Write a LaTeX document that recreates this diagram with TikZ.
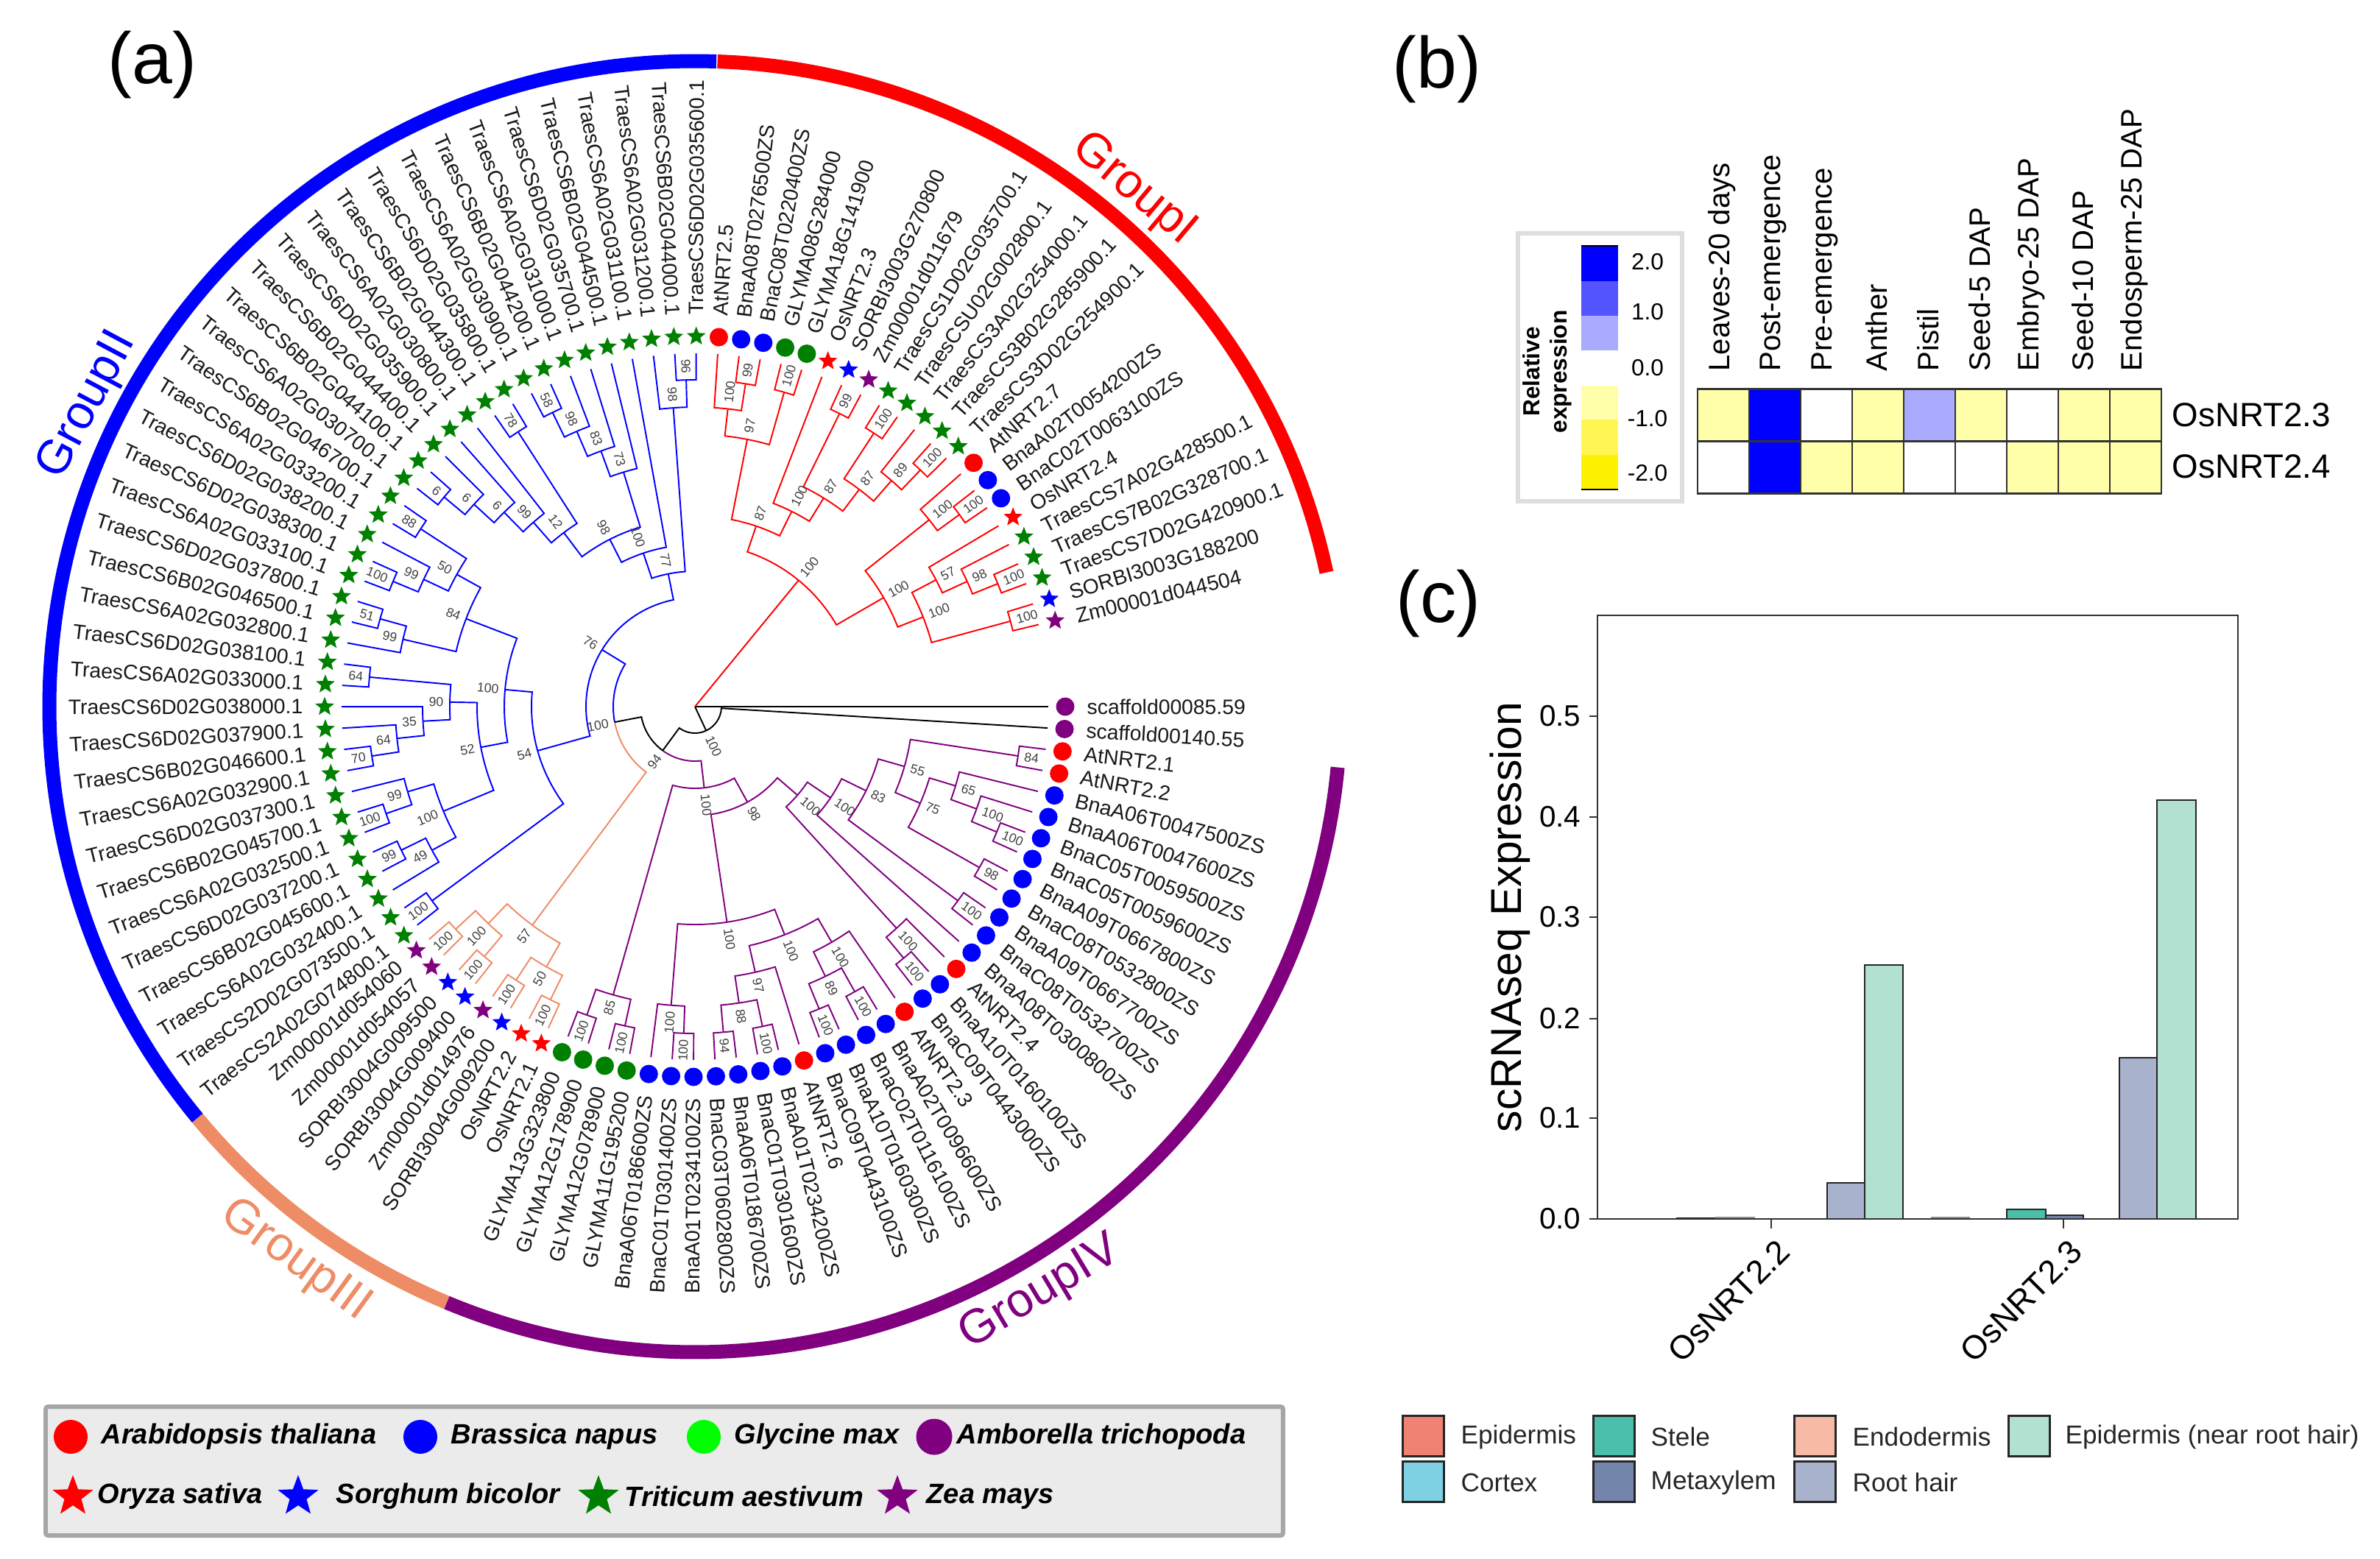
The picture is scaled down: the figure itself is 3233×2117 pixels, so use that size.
\documentclass[tikz,border=0pt]{standalone}
\usepackage{fontspec}
\setmainfont{Liberation Sans}
\usetikzlibrary{shapes.geometric}

\definecolor{grpor}{HTML}{EE8C66}
\definecolor{grppu}{HTML}{800080}
\definecolor{grpgr}{HTML}{008000}
\definecolor{heatyl}{HTML}{FFFFAA}
\definecolor{heatbl}{HTML}{AAAAFF}
\definecolor{cepi}{HTML}{EF8272}
\definecolor{ccor}{HTML}{80D0E3}
\definecolor{cste}{HTML}{4ABFA9}
\definecolor{cmet}{HTML}{7485AB}
\definecolor{cend}{HTML}{F6BBA6}
\definecolor{chair}{HTML}{A8B2CC}
\definecolor{cnear}{HTML}{B2E0D1}

\tikzset{
  tip/.style={inner sep=0pt,font=\fontsize{8.05}{9}\selectfont,text=black!90},
  boot/.style={inner sep=0pt,font=\fontsize{5}{5.5}\selectfont,text=black!75},
  dot/.style={circle,fill,inner sep=0pt,minimum size=2.5mm},
  sta/.style={star,star points=5,star point ratio=2.3,fill,inner sep=0pt,minimum size=2.7mm},
  rdot/.style={dot,red}, bdot/.style={dot,blue}, gdot/.style={dot,grpgr}, pdot/.style={dot,grppu},
  rsta/.style={sta,red}, bsta/.style={sta,blue}, gsta/.style={sta,grpgr}, psta/.style={sta,grppu},
  lnr/.style={red,line width=.55pt}, lnb/.style={blue,line width=.55pt},
  lno/.style={grpor,line width=.55pt}, lnp/.style={grppu,line width=.55pt},
  lnk/.style={black,line width=.55pt},
  ring/.style={line width=5.4pt},
  grplab/.style={inner sep=0pt,font=\fontsize{18.5}{20}\selectfont},
  panel/.style={inner sep=0pt,font=\fontsize{28}{30}\selectfont},
  lgtext/.style={inner sep=0pt,anchor=west,font=\fontsize{10.8}{12}\selectfont\bfseries\itshape},
  ldot/.style={circle,fill,inner sep=0pt,minimum size=4.6mm},
  lsta/.style={star,star points=5,star point ratio=2.4,fill,inner sep=0pt,minimum size=5.8mm},
  cell/.style={draw=black!80,line width=.6pt,inner sep=0pt,minimum width=7mm,minimum height=7.1mm},
  collab/.style={inner sep=0pt,rotate=90,anchor=west,font=\fontsize{11.4}{13}\selectfont},
  rowlab/.style={inner sep=0pt,anchor=west,font=\fontsize{13}{15}\selectfont},
  cbar/.style={inner sep=0pt,font=\fontsize{9}{10}\selectfont},
  bar/.style={draw=black!85,line width=.75pt},
  ytick/.style={inner sep=0pt,anchor=east,font=\fontsize{11.5}{13}\selectfont},
  xtick/.style={inner sep=0pt,rotate=45,anchor=east,font=\fontsize{12.8}{14}\selectfont},
  swatch/.style={draw=black!85,line width=.75pt,inner sep=0pt,minimum width=5.6mm,minimum height=5.5mm,anchor=north west},
  swtext/.style={inner sep=0pt,anchor=west,font=\fontsize{10}{12}\selectfont,text=black!85}
}

% leaf: name, angle, style, text
\newcommand{\leaf}[4]{%
  \node[#3] (#1) at (#2:503) {};
  \coordinate (#1-j) at (#2:480);
  \expandafter\xdef\csname ang#1\endcsname{#2}%
  \pgfmathtruncatemacro{\lft}{cos(#2)<0 ? 1 : 0}%
  \ifnum\lft=1
    \node[tip,rotate=#2+180,anchor=east] (#1-t) at (#2:532) {#4};
  \else
    \node[tip,rotate=#2,anchor=west] (#1-t) at (#2:532) {#4};
  \fi
}
% clade in two colours: style, style, name, child, child, radius, bootstrap
\newcommand{\cladetwo}[7]{%
  \pgfmathsetmacro{\angA}{\csname ang#4\endcsname}%
  \pgfmathsetmacro{\angB}{\csname ang#5\endcsname}%
  \pgfmathsetmacro{\angM}{(\angA+\angB)/2}%
  \expandafter\xdef\csname ang#3\endcsname{\angM}%
  \coordinate (#3-j) at (\angM:#6);
  \draw[#1] (#4-j) -- (\angA:#6) arc[start angle=\angA,end angle=\angM,radius=#6];
  \draw[#2] (#5-j) -- (\angB:#6) arc[start angle=\angB,end angle=\angM,radius=#6];
  \pgfmathsetmacro{\radL}{#6+8}%
  \pgfmathtruncatemacro{\lft}{cos(\angM)<0 ? 1 : 0}%
  \ifnum\lft=1
    \node[boot,rotate=\angM+180,anchor=east] (#3-b) at (\angM:\radL) {#7};
  \else
    \node[boot,rotate=\angM,anchor=west] (#3-b) at (\angM:\radL) {#7};
  \fi
}
\newcommand{\clade}[6]{\cladetwo{#1}{#1}{#2}{#3}{#4}{#5}{#6}}

\begin{document}
\begin{tikzpicture}[x=0.01cm,y=0.01cm]
\useasboundingbox (0,0) rectangle (3233,-2117);

% panel a
\node[panel] (pa) at (207,-88) {(a)};
\begin{scope}[shift={(944,-960)}]
\coordinate (root) at (0,0);
\draw[ring,red] (88:877) arc[start angle=88,end angle=12,radius=877];
\draw[ring,blue] (88.1:877) arc[start angle=88.1,end angle=219.6,radius=877];
\draw[ring,grpor] (219.6:877) arc[start angle=219.6,end angle=247.4,radius=877];
\draw[ring,grppu] (247.4:877) arc[start angle=247.4,end angle=354.6,radius=877];
\node[grplab,red,rotate=-40] (gi) at (49.7:921) {GroupI};
\node[grplab,blue,rotate=62] (gii) at (153.6:921) {GroupII};
\node[grplab,grpor,rotate=-36] (giii) at (234.2:928) {GroupIII};
\node[grplab,grppu,rotate=31] (giv) at (300.5:925) {GroupIV};

% tips, group I
\leaf{a1}{86.3}{rdot}{AtNRT2.5}
\leaf{a2}{82.83}{bdot}{BnaA08T0276500ZS}
\leaf{a3}{79.36}{bdot}{BnaC08T0220400ZS}
\leaf{a4}{75.89}{gdot}{GLYMA08G284000}
\leaf{a5}{72.42}{gdot}{GLYMA18G141900}
\leaf{a6}{68.95}{rsta}{OsNRT2.3}
\leaf{a7}{65.48}{bsta}{SORBI3003G270800}
\leaf{a8}{62.01}{psta}{Zm00001d011679}
\leaf{a9}{58.54}{gsta}{TraesCS1D02G035700.1}
\leaf{a10}{55.07}{gsta}{TraesCSU02G002800.1}
\leaf{a11}{51.6}{gsta}{TraesCS3A02G254000.1}
\leaf{a12}{48.13}{gsta}{TraesCS3B02G285900.1}
\leaf{a13}{44.66}{gsta}{TraesCS3D02G254900.1}
\leaf{a14}{41.19}{rdot}{AtNRT2.7}
\leaf{a15}{37.72}{bdot}{BnaA02T0054200ZS}
\leaf{a16}{34.25}{bdot}{BnaC02T0063100ZS}
\leaf{a17}{30.78}{rsta}{OsNRT2.4}
\leaf{a18}{27.31}{gsta}{TraesCS7A02G428500.1}
\leaf{a19}{23.84}{gsta}{TraesCS7B02G328700.1}
\leaf{a20}{20.37}{gsta}{TraesCS7D02G420900.1}
\leaf{a21}{16.9}{bsta}{SORBI3003G188200}
\leaf{a22}{13.43}{psta}{Zm00001d044504}

% tips, group II
\leaf{w1}{89.8}{gsta}{TraesCS6D02G035600.1}
\leaf{w2}{93.27}{gsta}{TraesCS6B02G044000.1}
\leaf{w3}{96.74}{gsta}{TraesCS6A02G031200.1}
\leaf{w4}{100.21}{gsta}{TraesCS6A02G031100.1}
\leaf{w5}{103.68}{gsta}{TraesCS6B02G044500.1}
\leaf{w6}{107.15}{gsta}{TraesCS6D02G035700.1}
\leaf{w7}{110.62}{gsta}{TraesCS6A02G031000.1}
\leaf{w8}{114.09}{gsta}{TraesCS6B02G044200.1}
\leaf{w9}{117.56}{gsta}{TraesCS6A02G030900.1}
\leaf{w10}{121.03}{gsta}{TraesCS6D02G035800.1}
\leaf{w11}{124.5}{gsta}{TraesCS6B02G044300.1}
\leaf{w12}{127.97}{gsta}{TraesCS6A02G030800.1}
\leaf{w13}{131.44}{gsta}{TraesCS6D02G035900.1}
\leaf{w14}{134.91}{gsta}{TraesCS6B02G044400.1}
\leaf{w15}{138.38}{gsta}{TraesCS6B02G044100.1}
\leaf{w16}{141.85}{gsta}{TraesCS6A02G030700.1}
\leaf{w17}{145.32}{gsta}{TraesCS6B02G046700.1}
\leaf{w18}{148.79}{gsta}{TraesCS6A02G033200.1}
\leaf{w19}{152.26}{gsta}{TraesCS6D02G038200.1}
\leaf{w20}{155.73}{gsta}{TraesCS6D02G038300.1}
\leaf{w21}{159.2}{gsta}{TraesCS6A02G033100.1}
\leaf{w22}{162.67}{gsta}{TraesCS6D02G037800.1}
\leaf{w23}{166.14}{gsta}{TraesCS6B02G046500.1}
\leaf{w24}{169.61}{gsta}{TraesCS6A02G032800.1}
\leaf{w25}{173.08}{gsta}{TraesCS6D02G038100.1}
\leaf{w26}{176.55}{gsta}{TraesCS6A02G033000.1}
\leaf{w27}{180.02}{gsta}{TraesCS6D02G038000.1}
\leaf{w28}{183.49}{gsta}{TraesCS6D02G037900.1}
\leaf{w29}{186.96}{gsta}{TraesCS6B02G046600.1}
\leaf{w30}{190.43}{gsta}{TraesCS6A02G032900.1}
\leaf{w31}{193.9}{gsta}{TraesCS6D02G037300.1}
\leaf{w32}{197.37}{gsta}{TraesCS6B02G045700.1}
\leaf{w33}{200.84}{gsta}{TraesCS6A02G032500.1}
\leaf{w34}{204.31}{gsta}{TraesCS6D02G037200.1}
\leaf{w35}{207.78}{gsta}{TraesCS6B02G045600.1}
\leaf{w36}{211.25}{gsta}{TraesCS6A02G032400.1}
\leaf{w37}{214.72}{gsta}{TraesCS2D02G073500.1}
\leaf{w38}{218.19}{gsta}{TraesCS2A02G074800.1}

% tips, groups III and IV
\leaf{c1}{360}{pdot}{scaffold00085.59}
\leaf{c2}{356.53}{pdot}{scaffold00140.55}
\leaf{c3}{353.06}{rdot}{AtNRT2.1}
\leaf{c4}{349.59}{rdot}{AtNRT2.2}
\leaf{c5}{346.12}{bdot}{BnaA06T0047500ZS}
\leaf{c6}{342.65}{bdot}{BnaA06T0047600ZS}
\leaf{c7}{339.18}{bdot}{BnaC05T0059500ZS}
\leaf{c8}{335.71}{bdot}{BnaC05T0059600ZS}
\leaf{c9}{332.24}{bdot}{BnaA09T0667800ZS}
\leaf{c10}{328.77}{bdot}{BnaC08T0532800ZS}
\leaf{c11}{325.3}{bdot}{BnaA09T0667700ZS}
\leaf{c12}{321.83}{bdot}{BnaC08T0532700ZS}
\leaf{c13}{318.36}{bdot}{BnaA08T0300800ZS}
\leaf{c14}{314.89}{rdot}{AtNRT2.4}
\leaf{c15}{311.42}{bdot}{BnaA10T0160100ZS}
\leaf{c16}{307.95}{bdot}{BnaC09T0443000ZS}
\leaf{c17}{304.48}{rdot}{AtNRT2.3}
\leaf{c18}{301.01}{bdot}{BnaA02T0096600ZS}
\leaf{c19}{297.54}{bdot}{BnaC02T0116100ZS}
\leaf{c20}{294.07}{bdot}{BnaA10T0160300ZS}
\leaf{c21}{290.6}{bdot}{BnaC09T0443100ZS}
\leaf{c22}{287.13}{rdot}{AtNRT2.6}
\leaf{c23}{283.66}{bdot}{BnaA01T0234200ZS}
\leaf{c24}{280.19}{bdot}{BnaC01T0301600ZS}
\leaf{c25}{276.72}{bdot}{BnaA06T0186700ZS}
\leaf{c26}{273.25}{bdot}{BnaC03T0602800ZS}
\leaf{c27}{269.78}{bdot}{BnaA01T0234100ZS}
\leaf{c28}{266.31}{bdot}{BnaC01T0301400ZS}
\leaf{c29}{262.84}{bdot}{BnaA06T0186600ZS}
\leaf{c30}{259.37}{gdot}{GLYMA11G195200}
\leaf{c31}{255.9}{gdot}{GLYMA12G078900}
\leaf{c32}{252.43}{gdot}{GLYMA12G178900}
\leaf{c33}{248.96}{gdot}{GLYMA13G323800}
\leaf{c34}{245.49}{rsta}{OsNRT2.1}
\leaf{c35}{242.02}{rsta}{OsNRT2.2}
\leaf{c36}{238.55}{bsta}{SORBI3004G009200}
\leaf{c37}{235.08}{psta}{Zm00001d014976}
\leaf{c38}{231.61}{bsta}{SORBI3004G009400}
\leaf{c39}{228.14}{bsta}{SORBI3004G009500}
\leaf{c40}{224.67}{psta}{Zm00001d054057}
\leaf{c41}{221.2}{psta}{Zm00001d054060}

% group I branches
\clade{lnr}{r1}{a3}{a2}{444}{99}
\clade{lnr}{r2}{a1}{r1}{407}{100}
\clade{lnr}{r3}{a5}{a4}{444}{100}
\clade{lnr}{r4}{r2}{r3}{370}{97}
\clade{lnr}{r5}{a8}{a7}{444}{99}
\clade{lnr}{r6}{a10}{a9}{444}{100}
\clade{lnr}{r7}{a13}{a12}{444}{100}
\clade{lnr}{r8}{a11}{r7}{407}{89}
\clade{lnr}{r9}{r6}{r8}{370}{87}
\clade{lnr}{r10}{r5}{r9}{333}{87}
\clade{lnr}{r11}{a6}{r10}{296}{100}
\clade{lnr}{r12}{r4}{r11}{259}{87}
\clade{lnr}{r13}{a16}{a15}{444}{100}
\clade{lnr}{r14}{a14}{r13}{407}{100}
\clade{lnr}{r15}{a20}{a19}{444}{100}
\clade{lnr}{r16}{a18}{r15}{407}{98}
\clade{lnr}{r17}{a17}{r16}{370}{57}
\clade{lnr}{r18}{a22}{a21}{444}{100}
\clade{lnr}{r19}{r17}{r18}{333}{100}
\clade{lnr}{r20}{r14}{r19}{296}{100}
\clade{lnr}{r21}{r12}{r20}{222}{100}

% group II branches
\clade{lnb}{b1}{w1}{w2}{444}{96}
\clade{lnb}{b2}{w3}{b1}{407}{98}
\clade{lnb}{b3}{w8}{w9}{444}{58}
\clade{lnb}{b4}{b3}{w7}{407}{98}
\clade{lnb}{b5}{b4}{w6}{370}{83}
\clade{lnb}{b6}{b5}{w5}{333}{73}
\clade{lnb}{b7}{w10}{w11}{444}{78}
\clade{lnb}{b8}{w15}{w16}{444}{6}
\clade{lnb}{b9}{b8}{w14}{407}{6}
\clade{lnb}{b10}{b9}{w13}{370}{6}
\clade{lnb}{b11}{b10}{w12}{333}{99}
\clade{lnb}{b12}{b11}{b7}{296}{12}
\clade{lnb}{b13}{b12}{b6}{255}{98}
\clade{lnb}{b14}{b13}{w4}{220}{100}
\clade{lnb}{b15}{b14}{b2}{184}{77}
\clade{lnb}{b16}{w17}{w18}{444}{88}
\clade{lnb}{b17}{w20}{w21}{444}{100}
\clade{lnb}{b18}{b17}{w19}{407}{99}
\clade{lnb}{b19}{b16}{b18}{370}{50}
\clade{lnb}{b20}{w22}{w23}{444}{51}
\clade{lnb}{b21}{b20}{w24}{407}{99}
\clade{lnb}{b22}{b19}{b21}{333}{84}
\clade{lnb}{b23}{w25}{w26}{444}{64}
\clade{lnb}{b24}{w29}{w30}{444}{70}
\clade{lnb}{b25}{w28}{b24}{407}{64}
\clade{lnb}{b26}{w27}{b25}{370}{35}
\clade{lnb}{b27}{b23}{b26}{333}{90}
\clade{lnb}{b28}{w32}{w33}{444}{100}
\clade{lnb}{b29}{w31}{b28}{407}{99}
\clade{lnb}{b30}{w34}{w35}{444}{99}
\clade{lnb}{b31}{b30}{w36}{407}{49}
\clade{lnb}{b32}{b29}{b31}{370}{100}
\clade{lnb}{b33}{b27}{b32}{296}{52}
\clade{lnb}{b34}{b22}{b33}{259}{100}
\clade{lnb}{b35}{w37}{w38}{444}{100}
\clade{lnb}{b36}{b34}{b35}{222}{54}
\clade{lnb}{b37}{b15}{b36}{148}{76}

% group III branches
\clade{lno}{o1}{c40}{c41}{444}{100}
\clade{lno}{o2}{c38}{c39}{444}{100}
\clade{lno}{o3}{o1}{o2}{407}{100}
\clade{lno}{o4}{c36}{c37}{444}{100}
\clade{lno}{o5}{c34}{c35}{444}{100}
\clade{lno}{o6}{o4}{o5}{407}{50}
\clade{lno}{o7}{o3}{o6}{370}{57}

% group IV branches
\clade{lnp}{p1}{c32}{c33}{444}{100}
\clade{lnp}{p2}{c30}{c31}{444}{100}
\clade{lnp}{p3}{p1}{p2}{407}{85}
\clade{lnp}{p4}{c27}{c28}{444}{100}
\clade{lnp}{p5}{c29}{p4}{407}{100}
\clade{lnp}{p6}{c25}{c26}{444}{94}
\clade{lnp}{p7}{c23}{c24}{444}{100}
\clade{lnp}{p8}{p6}{p7}{407}{88}
\clade{lnp}{p9}{c22}{p8}{370}{97}
\clade{lnp}{p10}{c20}{c21}{444}{100}
\clade{lnp}{p11}{c18}{c19}{444}{100}
\clade{lnp}{p12}{p10}{p11}{407}{89}
\clade{lnp}{p13}{c17}{p12}{370}{100}
\clade{lnp}{p14}{p9}{p13}{333}{100}
\clade{lnp}{p15}{p5}{p14}{296}{100}
\clade{lnp}{p16}{c15}{c16}{444}{100}
\clade{lnp}{p17}{c14}{p16}{407}{100}
\clade{lnp}{p18}{c11}{c12}{444}{100}
\clade{lnp}{p19}{c9}{c10}{444}{98}
\clade{lnp}{p20}{c7}{c8}{444}{100}
\clade{lnp}{p21}{c6}{p20}{407}{100}
\clade{lnp}{p22}{c5}{p21}{370}{65}
\clade{lnp}{p23}{p19}{p22}{333}{75}
\clade{lnp}{p24}{c3}{c4}{444}{84}
\clade{lnp}{p25}{p23}{p24}{296}{55}
\clade{lnp}{p26}{p18}{p25}{259}{83}
\clade{lnp}{p27}{c13}{p26}{222}{100}
\clade{lnp}{p28}{p17}{p27}{184}{100}
\clade{lnp}{p29}{p15}{p28}{148}{98}
\clade{lnp}{p30}{p3}{p29}{111}{100}

% branches near the root
\cladetwo{lnb}{lno}{m1}{b37}{o7}{111}{100}
\cladetwo{lnk}{lnp}{m2}{m1}{p30}{74}{94}
\clade{lnk}{m3}{m2}{c2}{36}{100}
\draw[lnk] (root) -- (m3-j);
\draw[lnk] (root) -- (c1-j);
\draw[lnr] (root) -- (r21-j);
\end{scope}

% species legend
\node[draw=black!35,fill=black!8,line width=1.7pt,rounded corners=1pt,inner sep=0pt,minimum width=16.8cm,minimum height=1.75cm,anchor=north west] (legbox) at (59,-1908) {};
\node[ldot,red] (l1) at (96,-1952) {};
\node[lgtext] (l1t) at (137,-1952) {Arabidopsis thaliana};
\node[ldot,blue] (l2) at (571,-1952) {};
\node[lgtext] (l2t) at (612,-1952) {Brassica napus};
\node[ldot,green] (l3) at (956,-1952) {};
\node[lgtext] (l3t) at (997,-1952) {Glycine max};
\node[ldot,grppu,minimum size=4.9mm] (l4) at (1269,-1952) {};
\node[lgtext] (l4t) at (1299,-1952) {Amborella trichopoda};
\node[lsta,red] (l5) at (99,-2033) {};
\node[lgtext] (l5t) at (132,-2033) {Oryza sativa};
\node[lsta,blue] (l6) at (405,-2033) {};
\node[lgtext] (l6t) at (456,-2033) {Sorghum bicolor};
\node[lsta,grpgr] (l7) at (813,-2033) {};
\node[lgtext] (l7t) at (848,-2033) {Triticum aestivum};
\node[lsta,grppu] (l8) at (1219,-2033) {};
\node[lgtext] (l8t) at (1258,-2033) {Zea mays};

% panel b
\node[panel] (pb) at (1952,-94) {(b)};
\draw[black!13,line width=1.7pt] (2062,-317) rectangle (2285,-681);
\node[inner sep=0pt,rotate=90,align=center,font=\fontsize{9}{10.5}\selectfont\bfseries] (rel) at (2102,-505) {Relative\\expression};
\fill[blue] (2148,-334) rectangle (2198,-382);
\fill[blue!67] (2148,-382) rectangle (2198,-429);
\fill[heatbl] (2148,-429) rectangle (2198,-476);
\fill[heatyl] (2148,-524) rectangle (2198,-570);
\fill[yellow!67!white] (2148,-570) rectangle (2198,-618);
\fill[yellow] (2148,-618) rectangle (2198,-665);
\draw[black,line width=.6pt] (2148,-334) -- (2198,-334) (2148,-665) -- (2198,-665);
\node[cbar] (t2) at (2238,-356) {2.0};
\node[cbar] (t1) at (2238,-424) {1.0};
\node[cbar] (t0) at (2238,-500) {0.0};
\node[cbar] (tm1) at (2238,-569) {-1.0};
\node[cbar] (tm2) at (2238,-643) {-2.0};

\node[cell,fill=heatyl] (h11) at (2341,-564) {};
\node[cell,fill=blue] (h12) at (2411,-564) {};
\node[cell,fill=white] (h13) at (2481,-564) {};
\node[cell,fill=heatyl] (h14) at (2551,-564) {};
\node[cell,fill=heatbl] (h15) at (2621,-564) {};
\node[cell,fill=heatyl] (h16) at (2691,-564) {};
\node[cell,fill=white] (h17) at (2761,-564) {};
\node[cell,fill=heatyl] (h18) at (2831,-564) {};
\node[cell,fill=heatyl] (h19) at (2901,-564) {};
\node[cell,fill=white] (h21) at (2341,-635) {};
\node[cell,fill=blue] (h22) at (2411,-635) {};
\node[cell,fill=heatyl] (h23) at (2481,-635) {};
\node[cell,fill=heatyl] (h24) at (2551,-635) {};
\node[cell,fill=white] (h25) at (2621,-635) {};
\node[cell,fill=white] (h26) at (2691,-635) {};
\node[cell,fill=heatyl] (h27) at (2761,-635) {};
\node[cell,fill=heatyl] (h28) at (2831,-635) {};
\node[cell,fill=heatyl] (h29) at (2901,-635) {};
\node[collab] (s1) at (2339,-505) {Leaves-20 days};
\node[collab] (s2) at (2409,-505) {Post-emergence};
\node[collab] (s3) at (2479,-505) {Pre-emergence};
\node[collab] (s4) at (2549,-505) {Anther};
\node[collab] (s5) at (2619,-505) {Pistil};
\node[collab] (s6) at (2689,-505) {Seed-5 DAP};
\node[collab] (s7) at (2759,-505) {Embryo-25 DAP};
\node[collab] (s8) at (2829,-505) {Seed-10 DAP};
\node[collab] (s9) at (2899,-505) {Endosperm-25 DAP};
\node[rowlab] (n23) at (2950,-564) {OsNRT2.3};
\node[rowlab] (n24) at (2950,-634) {OsNRT2.4};

% panel c
\node[panel] (pc) at (1954,-820) {(c)};
\draw[bar,draw=black!90,line width=.5pt] (2278,-1656) rectangle (2331,-1655);
\draw[bar,draw=black!45,line width=.5pt] (2331,-1656) rectangle (2383,-1654);
\draw[bar,fill=chair] (2482,-1656) rectangle (2533,-1607);
\draw[bar,fill=cnear] (2533,-1656) rectangle (2585,-1311);
\draw[bar,draw=black!45,line width=.5pt] (2624,-1656) rectangle (2675,-1654);
\draw[bar,fill=cste] (2726,-1656) rectangle (2779,-1643);
\draw[bar,fill=cmet] (2779,-1656) rectangle (2830,-1651);
\draw[bar,fill=chair] (2879,-1656) rectangle (2930,-1437);
\draw[bar,fill=cnear] (2930,-1656) rectangle (2983,-1087);
\draw[black!80,line width=.6pt] (2170,-836) rectangle (3040,-1656);
\draw[black!80,line width=.6pt] (2159,-1656) -- (2170,-1656) (2159,-1519) -- (2170,-1519) (2159,-1384) -- (2170,-1384) (2159,-1246) -- (2170,-1246) (2159,-1110) -- (2170,-1110) (2159,-973) -- (2170,-973);
\draw[black!80,line width=.6pt] (2406,-1656) -- (2406,-1669) (2803,-1656) -- (2803,-1669);
\node[ytick] (y0) at (2148,-1656) {0.0};
\node[ytick] (y1) at (2148,-1519) {0.1};
\node[ytick] (y2) at (2148,-1384) {0.2};
\node[ytick] (y3) at (2148,-1246) {0.3};
\node[ytick] (y4) at (2148,-1110) {0.4};
\node[ytick] (y5) at (2148,-973) {0.5};
\node[inner sep=0pt,rotate=90,font=\fontsize{16.7}{18}\selectfont] (ytitle) at (2051,-1246) {scRNAseq Expression};
\node[xtick] (x1) at (2424,-1692) {OsNRT2.2};
\node[xtick] (x2) at (2821,-1692) {OsNRT2.3};

\node[swatch,fill=cepi] (k1) at (1904,-1922) {};
\node[swatch,fill=ccor] (k2) at (1904,-1984) {};
\node[swatch,fill=cste] (k3) at (2163,-1922) {};
\node[swatch,fill=cmet] (k4) at (2163,-1984) {};
\node[swatch,fill=cend] (k5) at (2436,-1922) {};
\node[swatch,fill=chair] (k6) at (2436,-1984) {};
\node[swatch,fill=cnear] (k7) at (2727,-1922) {};
\node[swtext] (k1t) at (1984,-1952) {Epidermis};
\node[swtext] (k2t) at (1984,-2014) {Cortex};
\node[swtext] (k3t) at (2242,-1952) {Stele};
\node[swtext] (k4t) at (2242,-2014) {Metaxylem};
\node[swtext] (k5t) at (2516,-1952) {Endodermis};
\node[swtext] (k6t) at (2516,-2014) {Root hair};
\node[swtext] (k7t) at (2805,-1952) {Epidermis (near root hair)};
\end{tikzpicture}
\end{document}
